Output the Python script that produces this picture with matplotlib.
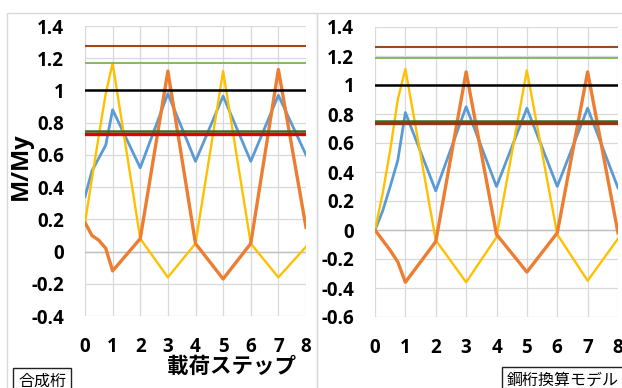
import matplotlib
matplotlib.use("Agg")
import matplotlib.pyplot as plt
from matplotlib.patches import Rectangle

plt.rcParams['font.family'] = ['Noto Sans CJK JP', 'DejaVu Sans']

# ---- data ----
steps = [0, 0.25, 0.5, 0.75, 1, 2, 3, 4, 5, 6, 7, 8]
x_ticks = [0, 1, 2, 3, 4, 5, 6, 7, 8]

blue_L = [0.34, 0.50, 0.58, 0.66, 0.88, 0.52, 0.98, 0.56, 0.965, 0.56, 0.97, 0.60]
orange_L = [0.18, 0.10, 0.07, 0.02, -0.12, 0.08, 1.12, 0.05, -0.17, 0.05, 1.13, 0.15]
yellow_L = [0.18, 0.45, 0.72, 0.98, 1.17, 0.08, -0.16, 0.05, 1.12, 0.05, -0.16, 0.03]
ref_L = {'brown': 1.275, 'green': 1.17, 'black': 1.0, 'dkgreen': 0.75, 'red': 0.73}

blue_R = [0.0, 0.13, 0.30, 0.48, 0.81, 0.27, 0.85, 0.30, 0.84, 0.30, 0.84, 0.29]
orange_R = [0.0, -0.07, -0.14, -0.22, -0.36, -0.08, 1.09, -0.03, -0.29, -0.02, 1.09, -0.02]
yellow_R = [0.0, 0.25, 0.55, 0.90, 1.11, -0.07, -0.36, -0.05, 1.10, -0.03, -0.35, -0.06]
ref_R = {'brown': 1.26, 'green': 1.185, 'black': 1.0, 'dkgreen': 0.755, 'red': 0.74}

yticks_L = [1.4, 1.2, 1.0, 0.8, 0.6, 0.4, 0.2, 0.0, -0.2, -0.4]
ytick_labels_L = ['1.4', '1.2', '1', '0.8', '0.6', '0.4', '0.2', '0', '-0.2', '-0.4']
yticks_R = [1.4, 1.2, 1.0, 0.8, 0.6, 0.4, 0.2, 0.0, -0.2, -0.4, -0.6]
ytick_labels_R = ['1.4', '1.2', '1', '0.8', '0.6', '0.4', '0.2', '0', '-0.2', '-0.4', '-0.6']

W, H = 622, 388
fig = plt.figure(figsize=(W / 100, H / 100), dpi=100)

def fx(px):
    return px / W

def fy(py):
    return 1 - py / H

# chart frames
fig.add_artist(Rectangle((fx(7), fy(392)), fx(310), (392 - 12.5) / H, transform=fig.transFigure,
                         fill=False, edgecolor='#D9D9D9', lw=1.0))
fig.add_artist(Rectangle((fx(317.5), fy(392)), fx(320), (392 - 12.5) / H, transform=fig.transFigure,
                         fill=False, edgecolor='#D9D9D9', lw=1.0))

axL = fig.add_axes([fx(85), fy(316), fx(306) - fx(85), (316 - 26) / H])
axR = fig.add_axes([fx(375), fy(317), fx(618) - fx(375), (317 - 27) / H])

ref_colors = {'brown': '#A0481A', 'green': '#7DB552', 'black': '#000000',
              'dkgreen': '#3B6B22', 'red': '#E00000'}
ref_widths = {'brown': 1.5, 'green': 1.3, 'black': 1.8, 'dkgreen': 1.8, 'red': 2.4}

num_font = ['Open Sans', 'DejaVu Sans']

def draw(ax, blue, orange, yellow, refs, yticks, ylabels, ylim, lower_color):
    ax.set_xlim(0, 8)
    ax.set_ylim(*ylim)
    ax.set_xticks(x_ticks)
    ax.set_yticks(yticks)
    ax.set_yticklabels(ylabels)
    ax.grid(True, color='#D9D9D9', lw=0.9)
    ax.set_axisbelow(True)
    for s in ax.spines.values():
        s.set_visible(False)
    ax.tick_params(length=0, labelsize=13.5)
    ax.tick_params(axis='y', pad=15)
    ax.tick_params(axis='x', pad=15)
    for lab in ax.get_xticklabels() + ax.get_yticklabels():
        lab.set_fontweight('bold')
        lab.set_family(num_font)
    ax.axhline(0, color='#BFBFBF', lw=1.0, zorder=1)
    ax.plot(steps, blue, color='#5B9BD5', lw=2.0, zorder=3)
    ax.plot(steps, yellow, color='#FFC000', lw=1.7, zorder=3)
    ax.plot(steps, orange, color='#ED7D31', lw=2.4, zorder=3)
    for k, v in refs.items():
        c = ref_colors[k]
        if k == 'red':
            c = lower_color
        ax.axhline(v, color=c, lw=ref_widths[k], zorder=4)

draw(axL, blue_L, orange_L, yellow_L, ref_L, yticks_L, ytick_labels_L, (-0.4, 1.4), '#E00000')
draw(axR, blue_R, orange_R, yellow_R, ref_R, yticks_R, ytick_labels_R, (-0.6, 1.4), '#8B3A12')

fig.text(fx(21), fy(166), 'M/My', rotation=90, ha='center', va='center',
         fontsize=17, fontweight='bold', family=num_font)
fig.text(fx(232), fy(366), '載荷ステップ', ha='center', va='center', fontsize=15.5, fontweight='bold')

fig.text(fx(42), fy(381), '合成桁', ha='center', va='center', fontsize=11.5,
         bbox=dict(boxstyle='square,pad=0.3', fc='white', ec='#222222', lw=1.0))
fig.text(fx(563), fy(380), '鋼桁換算モデル', ha='center', va='center', fontsize=11.5,
         bbox=dict(boxstyle='square,pad=0.3', fc='white', ec='#222222', lw=1.0))

fig.savefig('out.png', dpi=100)
